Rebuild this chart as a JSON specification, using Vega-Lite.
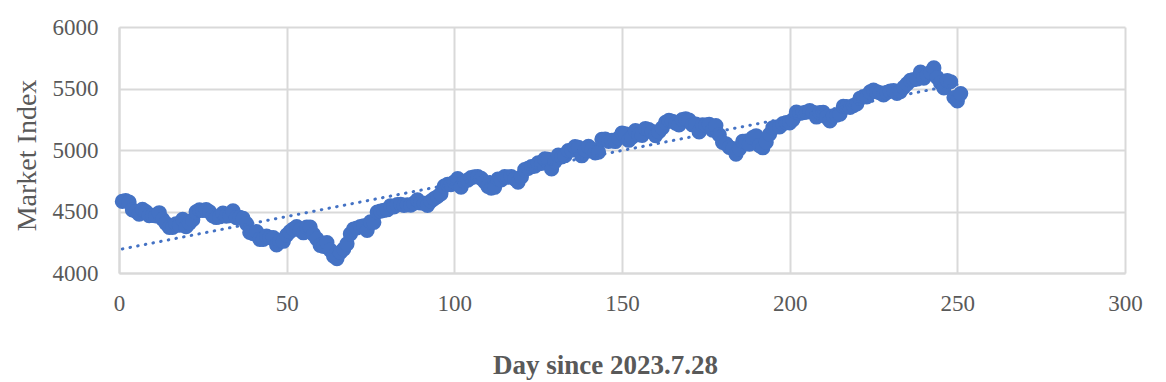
{
  "$schema": "https://vega.github.io/schema/vega-lite/v6.json",
  "width": 1006,
  "height": 246,
  "autosize": "none",
  "padding": {"left": 119, "top": 27, "right": 41, "bottom": 109},
  "background": "white",
  "config": {
    "view": {"stroke": null},
    "font": "Liberation Serif",
    "axis": {
      "gridColor": "#d9d9d9",
      "gridWidth": 2,
      "domainColor": "#d9d9d9",
      "domainWidth": 2,
      "ticks": false,
      "tickSize": 0,
      "labelFont": "Liberation Serif",
      "labelFontSize": 23,
      "labelColor": "#595959",
      "labelFlush": false,
      "titleFont": "Liberation Serif",
      "titleColor": "#595959",
      "titleFontSize": 26
    }
  },
  "data": {
    "values": [
      {"day":1,"v":4582},{"day":2,"v":4589},{"day":3,"v":4577},{"day":4,"v":4513},{"day":5,"v":4502},{"day":6,"v":4478},{"day":7,"v":4518},{"day":8,"v":4499},{"day":9,"v":4467},{"day":10,"v":4468},
      {"day":11,"v":4464},{"day":12,"v":4490},{"day":13,"v":4437},{"day":14,"v":4404},{"day":15,"v":4370},{"day":16,"v":4370},{"day":17,"v":4400},{"day":18,"v":4388},{"day":19,"v":4436},{"day":20,"v":4376},
      {"day":21,"v":4406},{"day":22,"v":4433},{"day":23,"v":4497},{"day":24,"v":4514},{"day":25,"v":4508},{"day":26,"v":4516},{"day":27,"v":4497},{"day":28,"v":4465},{"day":29,"v":4451},{"day":30,"v":4457},
      {"day":31,"v":4487},{"day":32,"v":4462},{"day":33,"v":4467},{"day":34,"v":4505},{"day":35,"v":4450},{"day":36,"v":4453},{"day":37,"v":4444},{"day":38,"v":4402},{"day":39,"v":4330},{"day":40,"v":4320},
      {"day":41,"v":4337},{"day":42,"v":4274},{"day":43,"v":4274},{"day":44,"v":4300},{"day":45,"v":4288},{"day":46,"v":4288},{"day":47,"v":4229},{"day":48,"v":4263},{"day":49,"v":4258},{"day":50,"v":4308},
      {"day":51,"v":4336},{"day":52,"v":4358},{"day":53,"v":4377},{"day":54,"v":4349},{"day":55,"v":4327},{"day":56,"v":4373},{"day":57,"v":4373},{"day":58,"v":4314},{"day":59,"v":4278},{"day":60,"v":4224},
      {"day":61,"v":4217},{"day":62,"v":4247},{"day":63,"v":4186},{"day":64,"v":4137},{"day":65,"v":4117},{"day":66,"v":4167},{"day":67,"v":4194},{"day":68,"v":4237},{"day":69,"v":4318},{"day":70,"v":4358},
      {"day":71,"v":4366},{"day":72,"v":4378},{"day":73,"v":4383},{"day":74,"v":4347},{"day":75,"v":4415},{"day":76,"v":4412},{"day":77,"v":4496},{"day":78,"v":4503},{"day":79,"v":4509},{"day":80,"v":4514},
      {"day":81,"v":4547},{"day":82,"v":4538},{"day":83,"v":4556},{"day":84,"v":4559},{"day":85,"v":4550},{"day":86,"v":4555},{"day":87,"v":4551},{"day":88,"v":4568},{"day":89,"v":4595},{"day":90,"v":4569},
      {"day":91,"v":4567},{"day":92,"v":4549},{"day":93,"v":4585},{"day":94,"v":4604},{"day":95,"v":4622},{"day":96,"v":4644},{"day":97,"v":4707},{"day":98,"v":4720},{"day":99,"v":4719},{"day":100,"v":4740},
      {"day":101,"v":4768},{"day":102,"v":4698},{"day":103,"v":4746},{"day":104,"v":4755},{"day":105,"v":4775},{"day":106,"v":4781},{"day":107,"v":4783},{"day":108,"v":4770},{"day":109,"v":4743},{"day":110,"v":4705},
      {"day":111,"v":4689},{"day":112,"v":4697},{"day":113,"v":4764},{"day":114,"v":4757},{"day":115,"v":4783},{"day":116,"v":4780},{"day":117,"v":4784},{"day":118,"v":4766},{"day":119,"v":4739},{"day":120,"v":4781},
      {"day":121,"v":4840},{"day":122,"v":4850},{"day":123,"v":4865},{"day":124,"v":4869},{"day":125,"v":4895},{"day":126,"v":4891},{"day":127,"v":4928},{"day":128,"v":4925},{"day":129,"v":4846},{"day":130,"v":4906},
      {"day":131,"v":4959},{"day":132,"v":4943},{"day":133,"v":4954},{"day":134,"v":4995},{"day":135,"v":4998},{"day":136,"v":5027},{"day":137,"v":5022},{"day":138,"v":4953},{"day":139,"v":5001},{"day":140,"v":5030},
      {"day":141,"v":5006},{"day":142,"v":4976},{"day":143,"v":4982},{"day":144,"v":5087},{"day":145,"v":5089},{"day":146,"v":5070},{"day":147,"v":5078},{"day":148,"v":5069},{"day":149,"v":5096},{"day":150,"v":5137},
      {"day":151,"v":5131},{"day":152,"v":5079},{"day":153,"v":5105},{"day":154,"v":5157},{"day":155,"v":5124},{"day":156,"v":5118},{"day":157,"v":5175},{"day":158,"v":5165},{"day":159,"v":5150},{"day":160,"v":5117},
      {"day":161,"v":5149},{"day":162,"v":5179},{"day":163,"v":5225},{"day":164,"v":5241},{"day":165,"v":5234},{"day":166,"v":5218},{"day":167,"v":5204},{"day":168,"v":5248},{"day":169,"v":5254},{"day":170,"v":5243},
      {"day":171,"v":5205},{"day":172,"v":5211},{"day":173,"v":5147},{"day":174,"v":5204},{"day":175,"v":5202},{"day":176,"v":5209},{"day":177,"v":5161},{"day":178,"v":5199},{"day":179,"v":5123},{"day":180,"v":5061},
      {"day":181,"v":5051},{"day":182,"v":5022},{"day":183,"v":5011},{"day":184,"v":4967},{"day":185,"v":5010},{"day":186,"v":5070},{"day":187,"v":5072},{"day":188,"v":5048},{"day":189,"v":5100},{"day":190,"v":5116},
      {"day":191,"v":5036},{"day":192,"v":5018},{"day":193,"v":5064},{"day":194,"v":5128},{"day":195,"v":5181},{"day":196,"v":5187},{"day":197,"v":5188},{"day":198,"v":5214},{"day":199,"v":5223},{"day":200,"v":5221},
      {"day":201,"v":5247},{"day":202,"v":5308},{"day":203,"v":5297},{"day":204,"v":5303},{"day":205,"v":5308},{"day":206,"v":5321},{"day":207,"v":5307},{"day":208,"v":5268},{"day":209,"v":5305},{"day":210,"v":5306},
      {"day":211,"v":5267},{"day":212,"v":5236},{"day":213,"v":5278},{"day":214,"v":5283},{"day":215,"v":5291},{"day":216,"v":5354},{"day":217,"v":5352},{"day":218,"v":5347},{"day":219,"v":5361},{"day":220,"v":5375},
      {"day":221,"v":5421},{"day":222,"v":5434},{"day":223,"v":5431},{"day":224,"v":5473},{"day":225,"v":5487},{"day":226,"v":5473},{"day":227,"v":5464},{"day":228,"v":5448},{"day":229,"v":5469},{"day":230,"v":5478},
      {"day":231,"v":5483},{"day":232,"v":5460},{"day":233,"v":5475},{"day":234,"v":5509},{"day":235,"v":5537},{"day":236,"v":5567},{"day":237,"v":5572},{"day":238,"v":5577},{"day":239,"v":5633},{"day":240,"v":5585},
      {"day":241,"v":5615},{"day":242,"v":5631},{"day":243,"v":5667},{"day":244,"v":5589},{"day":245,"v":5545},{"day":246,"v":5505},{"day":247,"v":5564},{"day":248,"v":5555},{"day":249,"v":5427},{"day":250,"v":5399},
      {"day":251,"v":5459}
    ]
  },
  "encoding": {
    "x": {
      "field": "day", "type": "quantitative",
      "scale": {"domain": [0, 300], "nice": false, "zero": false},
      "axis": {"values": [0, 50, 100, 150, 200, 250, 300], "format": "d", "title": "Day since 2023.7.28", "titleFontWeight": "bold", "titleFontSize": 27, "titleX": 486, "titleAlign": "center", "labelPadding": 19, "titlePadding": 37}
    },
    "y": {
      "field": "v", "type": "quantitative",
      "scale": {"domain": [4000, 6000], "nice": false, "zero": false},
      "axis": {"values": [4000, 4500, 5000, 5500, 6000], "format": "d", "title": "Market Index", "titleFontWeight": "normal", "titleFontSize": 28, "titleY": 128, "labelPadding": 21, "titlePadding": 11}
    }
  },
  "layer": [
    {
      "mark": {"type": "circle", "size": 230, "color": "#4472C4", "opacity": 1}
    },
    {
      "transform": [{"regression": "v", "on": "day", "extent": [1, 251]}],
      "mark": {"type": "line", "color": "#4472C4", "strokeWidth": 3, "strokeDash": [0.5, 7.3], "strokeCap": "round"}
    }
  ]
}
